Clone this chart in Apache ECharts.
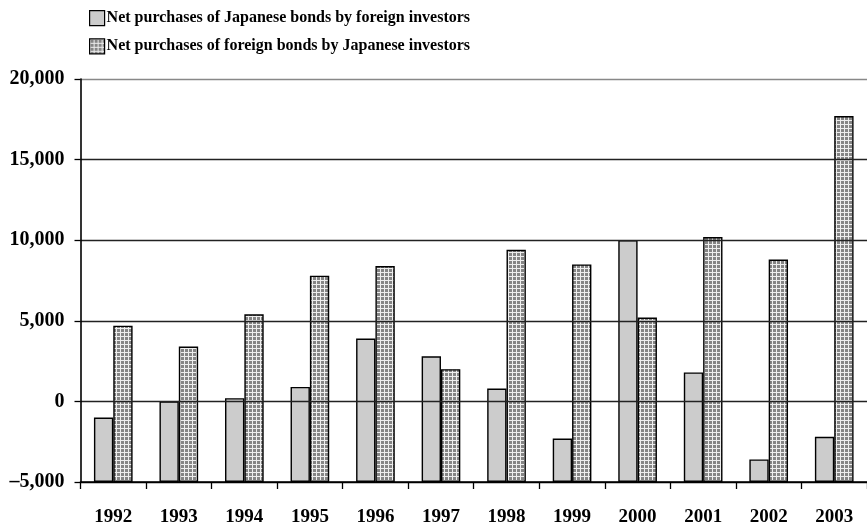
<!DOCTYPE html>
<html>
<head>
<meta charset="utf-8">
<script src="https://cdn.jsdelivr.net/npm/echarts@6/dist/echarts.min.js"></script>
<style>
  html, body { margin: 0; padding: 0; background: #fff; }
  #chart { width: 867px; height: 527px; }
</style>
</head>
<body>
<div id="chart"></div>
<script>
const years = ["1992", "1993", "1994", "1995", "1996", "1997", "1998", "1999", "2000", "2001", "2002", "2003"];
const japaneseBondsByForeign = [-1000, 0, 200, 900, 3900, 2800, 800, -2300, 10000, 1800, -3600, -2200];
const foreignBondsByJapanese = [4700, 3400, 5400, 7800, 8400, 2000, 9400, 8500, 5200, 10200, 8800, 17700];
const seriesNames = [
  "Net purchases of Japanese bonds by foreign investors",
  "Net purchases of foreign bonds by Japanese investors",
];

// small checkered fill like the old Excel pattern
function makePattern() {
  const c = document.createElement("canvas");
  c.width = 4;
  c.height = 4;
  const ctx = c.getContext("2d");
  ctx.fillStyle = "#eeeeee";
  ctx.fillRect(0, 0, 4, 4);
  ctx.fillStyle = "#858585";
  ctx.fillRect(1, 1, 3, 3);
  return c;
}

const font = "'Liberation Serif', 'Times New Roman', serif";
const chart = echarts.init(document.getElementById("chart"));

chart.setOption({
  animation: false,
  textStyle: { fontFamily: font },
  legend: {
    orient: "vertical",
    left: 84,
    top: 5,
    icon: "rect",
    itemWidth: 15,
    itemHeight: 15,
    itemGap: 12,
    itemStyle: { borderColor: "#000", borderWidth: 1.2 },
    textStyle: { fontFamily: font, fontWeight: "bold", fontSize: 16, color: "#000", padding: [0, 0, 0, -3] },
    data: seriesNames,
  },
  grid: { left: 80.5, right: 0, top: 79, height: 405.5, containLabel: false },
  xAxis: {
    type: "category",
    data: years,
    axisLine: { onZero: false, lineStyle: { color: "#000", width: 1.6 } },
    axisTick: { show: true, length: 7, lineStyle: { color: "#000", width: 1.3 } },
    axisLabel: { color: "#000", fontWeight: "bold", fontSize: 19, fontFamily: font, margin: 26 },
  },
  yAxis: {
    type: "value",
    min: -5000,
    max: 20000,
    interval: 5000,
    startValue: -5000,
    z: 5,
    axisLine: { show: true, lineStyle: { color: "#000", width: 1.6 } },
    axisTick: { show: true, length: 6, lineStyle: { color: "#000", width: 1.3 } },
    axisLabel: {
      color: "#000",
      fontWeight: "bold",
      fontSize: 20,
      fontFamily: font,
      margin: 16,
      formatter: (v) => (v < 0 ? "–" : "") + Math.abs(v).toLocaleString("en-US"),
    },
    splitLine: {
      lineStyle: { color: ["#000", "#222", "#222", "#222", "#222", "#888"], width: 1.4 },
    },
  },
  series: [
    {
      name: seriesNames[0],
      type: "bar",
      z: 1,
      data: japaneseBondsByForeign,
      barWidth: "29.5%",
      barGap: "0%",
      itemStyle: { color: "#cccccc", borderColor: "#000", borderWidth: 1.4 },
    },
    {
      name: seriesNames[1],
      type: "bar",
      z: 1,
      data: foreignBondsByJapanese,
      barWidth: "29.5%",
      barGap: "0%",
      itemStyle: {
        color: { image: makePattern(), repeat: "repeat" },
        borderColor: "#000",
        borderWidth: 1.4,
      },
    },
  ],
});
</script>
</body>
</html>
